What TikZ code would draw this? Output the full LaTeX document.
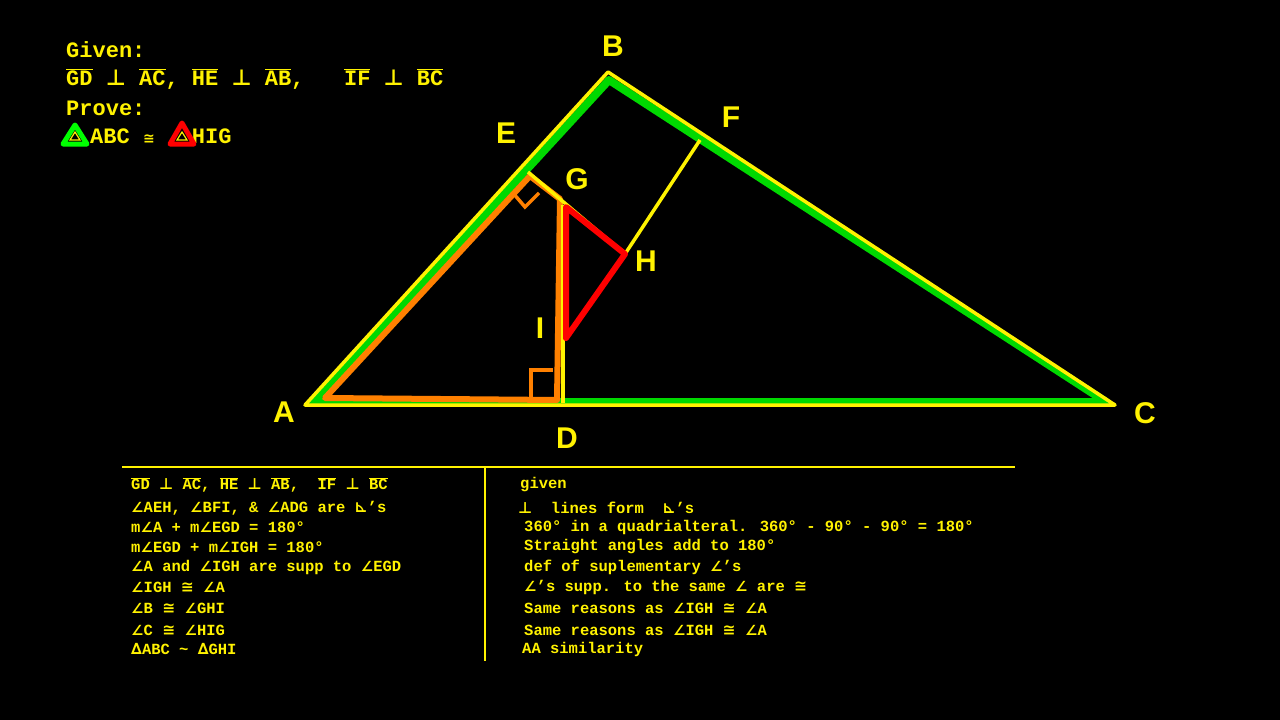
\documentclass[tikz,border=0pt]{standalone}
\usepackage{fontspec}
\setmainfont{Liberation Mono}
\newfontfamily\symf{DejaVu Sans}
\newfontfamily\lbl{Liberation Sans}
\newcommand{\ang}{{\symf\fontsize{0.9em}{1em}\selectfont ∠}}
\newcommand{\perpx}{{\symf ⊥}}
\newcommand{\cng}{{\symf ≅}}
\newcommand{\rang}{{\symf ⊾}}
\newcommand{\tri}{{\symf ∆}}
\newcommand{\seg}[1]{$\overline{\hbox{#1}}$}
\begin{document}
\begin{tikzpicture}[x=1pt,y=-1pt,
  lab/.style={font=\lbl\bfseries\fontsize{30}{30}\selectfont, text=yellow},
  row/.style={anchor=west, font=\bfseries\fontsize{15.5}{15.5}\selectfont, text=yellow, inner sep=0},
  gv/.style={anchor=west, font=\bfseries\fontsize{22}{22}\selectfont, text=yellow, inner sep=0}]
\fill[black] (0,0) rectangle (1280,720);
\useasboundingbox (0,0) rectangle (1280,720);
% points
\coordinate (A) at (305,405); \coordinate (B) at (608,72); \coordinate (C) at (1115,405);
\coordinate (D) at (560,403); \coordinate (E) at (528,172); \coordinate (G) at (560,199);
\coordinate (F) at (700,140); \coordinate (H) at (625,254); \coordinate (I) at (564,342);
% green triangle
\draw[green!85!black, line width=8pt, line join=round] (313,402) -- (609,80) -- (1106,402) -- cycle;
% yellow triangle
\draw[yellow, line width=3.5pt, line join=round] (A) -- (B) -- (C) -- cycle;
% orange quadrilateral
\draw[orange, line width=6pt, line join=round] (325,398) -- (530,176) -- (G) -- (557,400) -- cycle;
\draw[orange, line width=3.5pt] (530,176)++(-17,17) -- ++(12,14) -- ++(14,-14);
\draw[orange, line width=3.5pt] (531,398) -- (531,370) -- (553,370);
% yellow lines
\draw[yellow, line width=3.5pt] (E) -- (H);
\draw[yellow, line width=3.5pt] (F) -- (H);
\draw[yellow, line width=3.5pt] (563,205) -- (563,403);
% red triangle
\draw[red, line width=6pt, line join=round] (566,207) -- (H) -- (566,338) -- cycle;
% labels
\node[lab] (lA) at (284,412) {A};
\node[lab] (lB) at (613,46) {B};
\node[lab] (lC) at (1145,413) {C};
\node[lab] (lD) at (567,438) {D};
\node[lab] (lE) at (506,133) {E};
\node[lab] (lF) at (731,117) {F};
\node[lab] (lG) at (577,179) {G};
\node[lab] (lH) at (646,261) {H};
\node[lab] (lI) at (540,328) {I};
% given
\node[gv] (g1) at (66,50) {Given:};
\node[gv] (g2) at (66,79) {\seg{GD} \perpx{} \seg{AC}, \seg{HE} \perpx{} \seg{AB},\ \ \ \seg{IF} \perpx{} \seg{BC}};
\node[gv] (g3) at (66,108) {Prove:};
\node[gv] (g4) at (90,136) {ABC {\fontsize{14}{14}\selectfont\cng} \hspace{24pt}HIG};
\draw[green, line width=5pt, line join=round] (63,144) -- (75,125) -- (87,144) -- cycle;
\draw[red, line width=5pt, line join=round] (170,144) -- (182,123) -- (194,144) -- cycle;
\draw[yellow, line width=1.2pt] (70,140) -- (75,132) -- (80,140) -- cycle;
\draw[yellow, line width=1.2pt] (177,140) -- (182,132) -- (187,140) -- cycle;
% table
\draw[yellow, line width=2pt] (122,467) -- (1015,467);
\draw[yellow, line width=2pt] (485,467) -- (485,661);
\node[row] (r1) at (131,485) {\seg{GD} \perpx{} \seg{AC}, \seg{HE} \perpx{} \seg{AB},\ \ \seg{IF} \perpx{} \seg{BC}};
\node[row] (r2) at (131,508) {\ang AEH, \ang BFI, \& \ang ADG are \rang's};
\node[row] (r3) at (131,527) {m\ang A + m\ang EGD = 180°};
\node[row] (r4) at (131,547) {m\ang EGD + m\ang IGH = 180°};
\node[row] (r5) at (131,567) {\ang A and \ang IGH are supp to \ang EGD};
\node[row] (r6) at (131,587) {\ang IGH \cng{} \ang A};
\node[row] (r7) at (131,608) {\ang B \cng{} \ang GHI};
\node[row] (r8) at (131,630) {\ang C \cng{} \ang HIG};
\node[row] (r9) at (131,649) {\tri ABC \textasciitilde{} \tri GHI};
\node[row] (s1) at (520,485) {given};
\node[row] (s2) at (518,508) {\perpx{}\ \ lines form\ \ \rang's};
\node[row] (s3) at (524,527) {360° in a quadrialteral. 360° - 90° - 90° = 180°};
\node[row] (s4) at (524,547) {Straight angles add to 180°};
\node[row] (s5) at (524,567) {def of suplementary \ang's};
\node[row] (s6) at (524,587) {\ang's supp. to the same \ang{} are \cng};
\node[row] (s7) at (524,608) {Same reasons as \ang IGH \cng{} \ang A};
\node[row] (s8) at (524,630) {Same reasons as \ang IGH \cng{} \ang A};
\node[row] (s9) at (522,649) {AA similarity};
\end{tikzpicture}
\end{document}
